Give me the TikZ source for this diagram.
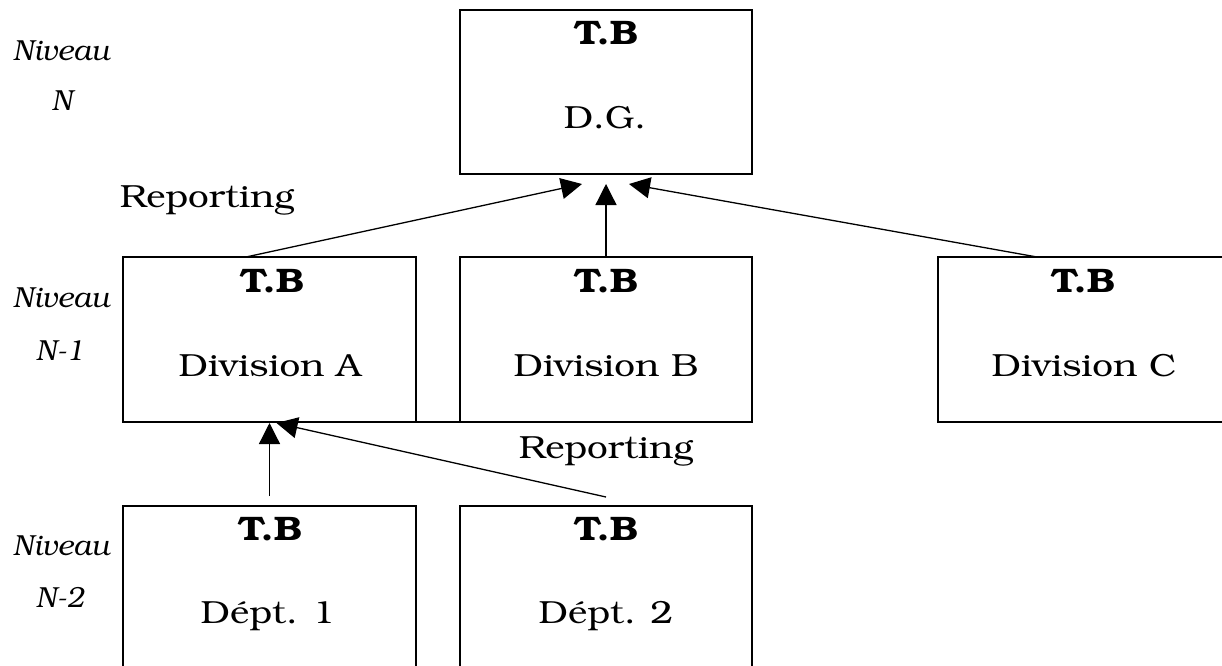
\documentclass[tikz,border=0pt]{standalone}
\usepackage[T1]{fontenc}
\usepackage{bookman}
\usepackage{graphicx}
\usetikzlibrary{arrows.meta}

% Bookman set a little wider, as in the original chart
\newcommand\widetext[1]{\scalebox{1.15}[1]{#1}}

\tikzset{
  unitbox/.style={draw, line width=1.4pt, inner sep=0pt, outer sep=0pt,
               minimum width=293pt, minimum height=165pt, anchor=north west},
  boxtitle/.style={anchor=base, inner sep=0pt, font=\bfseries\fontsize{34}{40}\selectfont},
  boxname/.style={anchor=base, inner sep=0pt, font=\fontsize{32}{38}\selectfont},
  lvlabel/.style={anchor=base, inner sep=0pt, font=\itshape\fontsize{29}{34}\selectfont},
  uparrow/.style={-{Triangle[length=21pt,width=21pt]}, line width=1.3pt},
}

\begin{document}
\begin{tikzpicture}[x=1pt, y=-1pt]
  \useasboundingbox (0,0) rectangle (1222,665);
  \fill[white] (0,0) rectangle (1222,665);
  \clip (0,0) rectangle (1222,665);

  % level labels
  \node[lvlabel] (lvN)   at (61,60)  {Niveau};
  \node[lvlabel] (lvNn)  at (62,110) {N};
  \node[lvlabel] (lvA)   at (61,307) {Niveau};
  \node[lvlabel] (lvAn)  at (60,360) {N-1};
  \node[lvlabel] (lvB)   at (61,555) {Niveau};
  \node[lvlabel] (lvBn)  at (60,607) {N-2};

  % boxes
  \node[unitbox, minimum width=292pt, minimum height=164pt] (dg) at (460,10) {};
  \node[unitbox] (divA) at (123,257) {};
  \node[unitbox, minimum width=292pt] (divB) at (460,257) {};
  \node[unitbox, minimum width=300pt] (divC) at (938,257) {};
  \node[unitbox, minimum height=200pt] (dep1) at (123,506) {};
  \node[unitbox, minimum width=292pt, minimum height=200pt] (dep2) at (460,506) {};
  \draw[line width=1.4pt] (divA.south east) -- (divB.south west);

  % box texts
  \node[boxtitle] (dgT) at (606,44)  {\widetext{T.B}};
  \node[boxname]  (dgN) at (605,128) {\widetext{D.G.}};
  \node[boxtitle] (aT)  at (272,292) {\widetext{T.B}};
  \node[boxname]  (aN)  at (270,376) {\widetext{Division A}};
  \node[boxtitle] (bT)  at (606,292) {\widetext{T.B}};
  \node[boxname]  (bN)  at (606,376) {\widetext{Division B}};
  \node[boxtitle] (cT)  at (1083,292) {\widetext{T.B}};
  \node[boxname]  (cN)  at (1084,376) {\widetext{Division C}};
  \node[boxtitle] (d1T) at (270,540) {\widetext{T.B}};
  \node[boxname]  (d1N) at (268,623) {\widetext{D\'ept. 1}};
  \node[boxtitle] (d2T) at (606,540) {\widetext{T.B}};
  \node[boxname]  (d2N) at (606,623) {\widetext{D\'ept. 2}};

  % reporting labels
  \node[boxname] (rep1) at (207,207) {\widetext{Reporting}};
  \node[boxname] (rep2) at (606,458) {\widetext{Reporting}};

  % arrow tips just below the receiving boxes
  \coordinate (tipL) at ([xshift=-24pt,yshift=-10pt]dg.south);
  \coordinate (tipM) at ([yshift=-10pt]dg.south);
  \coordinate (tipR) at ([xshift=23pt,yshift=-10pt]dg.south);
  \coordinate (tipA) at ([yshift=-1pt]divA.south);
  \coordinate (tipB) at ([xshift=7pt,yshift=-1pt]divA.south);

  % reporting to D.G.
  \draw[uparrow] ([xshift=-23.5pt]divA.north) -- (tipL);
  \draw[uparrow] (divB.north) -- (tipM);
  \draw[uparrow] ([xshift=99pt]divC.north west) -- (tipR);

  % reporting to Division A
  \draw[uparrow] ([yshift=10pt]dep1.north) -- (tipA);
  \draw[uparrow] ([xshift=-146pt,yshift=9pt]dep2.north east) -- (tipB);
\end{tikzpicture}
\end{document}
